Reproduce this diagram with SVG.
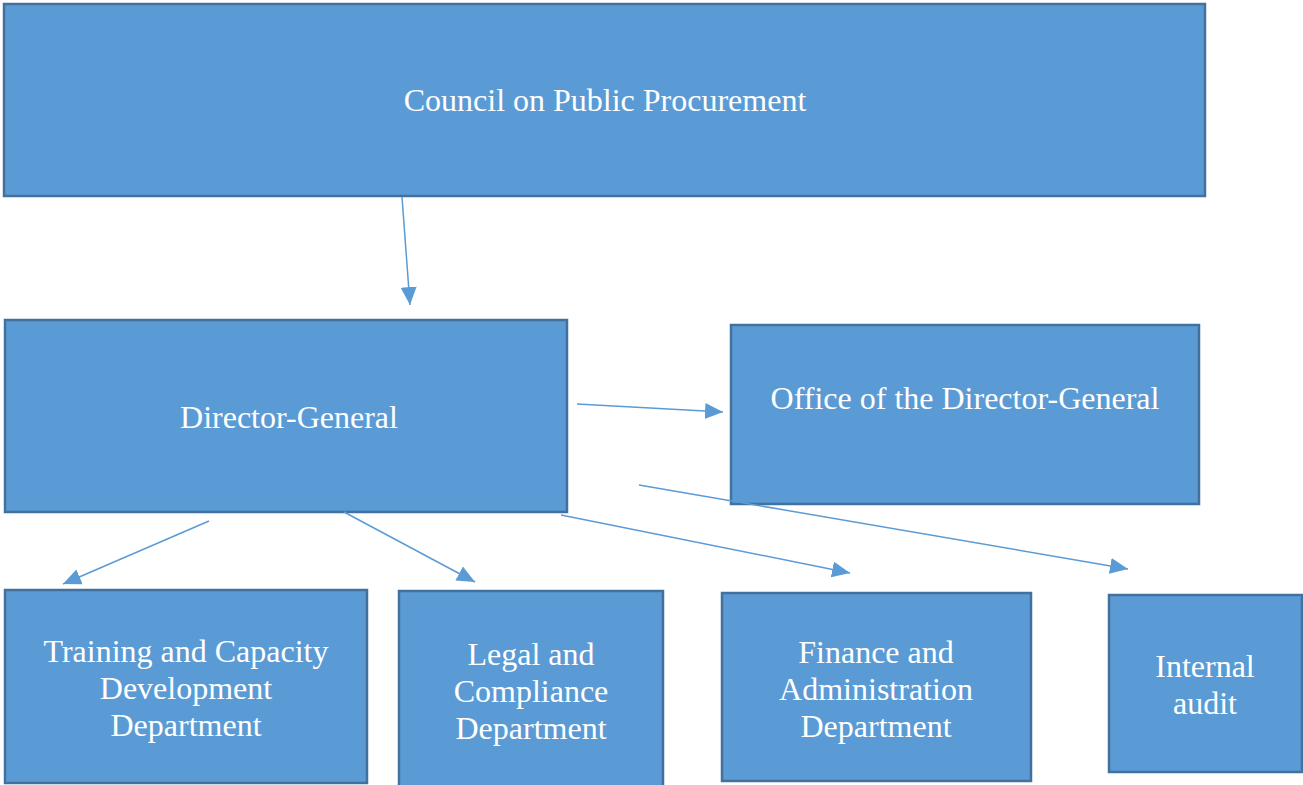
<svg xmlns="http://www.w3.org/2000/svg" width="1303" height="785" viewBox="0 0 1303 785">
<style>
.box{fill:#5B9BD5;stroke:#41719C;stroke-width:2.5}
.t{font-size:32px;fill:#FFFFFF;text-anchor:middle}
.c{stroke:#5B9BD5;stroke-width:1.5;fill:none;marker-end:url(#ah)}
</style>
<defs>
<marker id="ah" markerUnits="userSpaceOnUse" markerWidth="20" markerHeight="18" refX="18" refY="8" orient="auto">
<path d="M0,0 L18,8 L0,16 Z" fill="#5B9BD5"/>
</marker>
</defs>
<rect width="1303" height="785" fill="#FFFFFF"/>
<g font-family="'Liberation Serif', 'Times New Roman', Tinos, serif">
<g id="council">
<rect class="box" x="4" y="4" width="1201" height="192"/>
<text class="t" x="605" y="111">Council on Public Procurement</text>
</g>
<g id="director-general">
<rect class="box" x="5" y="320" width="562" height="192"/>
<text class="t" x="289" y="428">Director-General</text>
</g>
<g id="office">
<rect class="box" x="731" y="325" width="468" height="179"/>
<text class="t" x="965" y="409">Office of the Director-General</text>
</g>
<g id="training">
<rect class="box" x="5" y="590" width="362" height="193"/>
<text class="t" x="186" y="662">Training and Capacity</text>
<text class="t" x="186" y="699">Development</text>
<text class="t" x="186" y="736">Department</text>
</g>
<g id="legal">
<rect class="box" x="399" y="591" width="264" height="196"/>
<text class="t" x="531" y="665">Legal and</text>
<text class="t" x="531" y="702">Compliance</text>
<text class="t" x="531" y="739">Department</text>
</g>
<g id="finance">
<rect class="box" x="722" y="593" width="309" height="188"/>
<text class="t" x="876" y="663">Finance and</text>
<text class="t" x="876" y="700">Administration</text>
<text class="t" x="876" y="737">Department</text>
</g>
<g id="internal-audit">
<rect class="box" x="1109" y="595" width="193" height="177"/>
<text class="t" x="1205" y="677">Internal</text>
<text class="t" x="1205" y="714">audit</text>
</g>
</g>
<g id="connectors">
<line class="c" x1="402" y1="197" x2="410" y2="305"/>
<line class="c" x1="577" y1="404" x2="723" y2="412"/>
<line class="c" x1="209" y1="521" x2="63" y2="584"/>
<line class="c" x1="344" y1="512" x2="475" y2="582"/>
<line class="c" x1="561" y1="515" x2="850" y2="573"/>
<line class="c" x1="639" y1="485" x2="1128" y2="569"/>
</g>
</svg>
